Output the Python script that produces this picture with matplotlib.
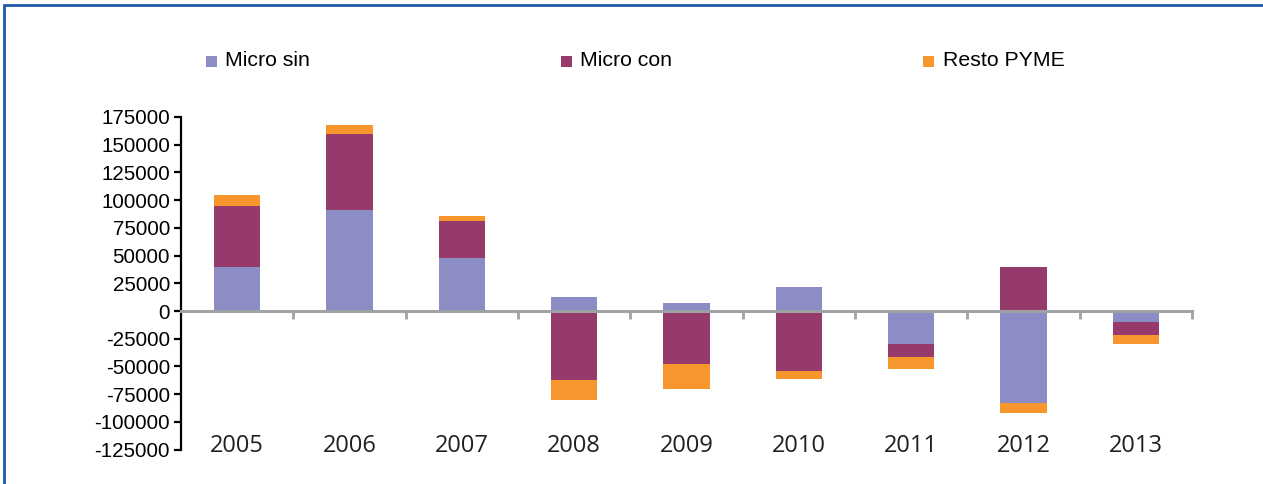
import numpy as np
import matplotlib
matplotlib.use("Agg")
import matplotlib.pyplot as plt
from matplotlib.patches import Rectangle
from matplotlib.transforms import blended_transform_factory

years = ["2005", "2006", "2007", "2008", "2009", "2010", "2011", "2012", "2013"]
micro_sin = [40000, 91000, 48000, 13000, 7000, 22000, -30000, -83000, -10000]
micro_con = [55000, 69000, 33500, -62500, -47600, -53700, -11700, 40000, -11400]
resto_pyme = [9500, 8000, 4300, -17800, -22300, -7800, -10500, -9000, -8400]

series = [("Micro sin", micro_sin, "#8C8DC5"),
          ("Micro con", micro_con, "#963A6C"),
          ("Resto PYME", resto_pyme, "#F7962D")]

yticks = [175000, 150000, 125000, 100000, 75000, 50000, 25000, 0,
          -25000, -50000, -75000, -100000, -125000]

W, H = 1263, 484
fig = plt.figure(figsize=(W / 100, H / 100), dpi=100)
ax = fig.add_axes([181 / W, 1 - 449.6 / H, (1192 - 181) / W, (449.6 - 117) / H])

x = np.arange(len(years))
pos_bottom = np.zeros(len(years))
neg_bottom = np.zeros(len(years))
for name, vals, col in series:
    v = np.array(vals, dtype=float)
    bottom = np.where(v >= 0, pos_bottom, neg_bottom)
    ax.bar(x, v, width=0.41, bottom=bottom, color=col, edgecolor="none", zorder=2)
    pos_bottom += np.where(v >= 0, v, 0)
    neg_bottom += np.where(v < 0, v, 0)

ax.set_xlim(-0.5, len(years) - 0.5)
ax.set_ylim(-125000, 175000)

# spines
for s in ["top", "right"]:
    ax.spines[s].set_visible(False)
ax.spines["left"].set_color("black")
ax.spines["left"].set_linewidth(1.6)
ax.spines["bottom"].set_position(("data", 0))
ax.spines["bottom"].set_color("#A0A3A6")
ax.spines["bottom"].set_linewidth(2.2)
ax.spines["bottom"].set_zorder(3)

ax.set_yticks(yticks)
ax.set_yticklabels([str(t) for t in yticks], fontsize=14.8,
                   fontfamily="Liberation Sans", color="black")
ax.tick_params(axis="y", direction="out", length=5, width=1.6, color="black", pad=3)

bounds = np.arange(len(years) + 1) - 0.5
ax.set_xticks(bounds[1:])
ax.set_xticklabels([])
ax.tick_params(axis="x", direction="out", length=6, width=2, color="#A0A3A6")

trans = blended_transform_factory(ax.transData, fig.transFigure)
for i, yr in enumerate(years):
    ax.text(x[i], 1 - 445.5 / H, yr, transform=trans, ha="center", va="center",
            fontsize=17, fontfamily="Open Sans", color="#231F20")

# legend
leg_sq = [206, 561, 923]
leg_tx = [225, 580, 943]
for (name, vals, col), sx, tx in zip(series, leg_sq, leg_tx):
    fig.add_artist(Rectangle((sx / W, 1 - 67 / H), 11 / W, 11 / H,
                             transform=fig.transFigure, facecolor=col, edgecolor="none"))
    fig.text(tx / W, 1 - 61 / H, name, ha="left", va="center", fontsize=15.3,
             fontfamily="Liberation Sans", color="black")

# border
fig.add_artist(Rectangle((4 / W, -0.1), 1.2, 1.1 - 5 / H, transform=fig.transFigure,
                         facecolor="none", edgecolor="#1C5BA8", linewidth=2))

fig.savefig("out.png", dpi=100)
